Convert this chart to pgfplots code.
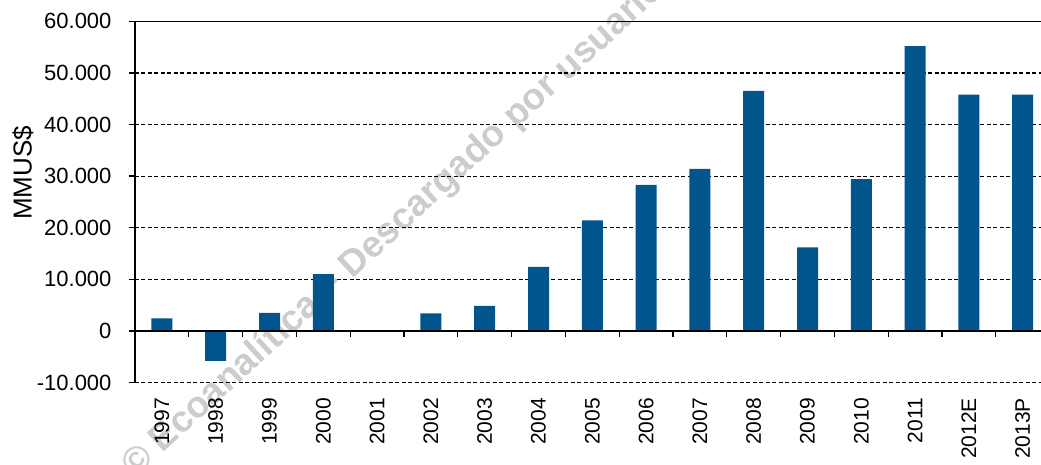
\documentclass[border=0pt]{standalone}
\usepackage{pgfplots}
\pgfplotsset{compat=1.18}
\usepackage{fontspec}
\setmainfont{Liberation Sans}
\definecolor{barblue}{HTML}{00568C}
\begin{document}
\begin{tikzpicture}
\useasboundingbox (-135pt,-82.4pt) rectangle (906pt,382.6pt);
\clip (-135pt,-82.4pt) rectangle (906pt,382.6pt);
\node[rotate=42.5, anchor=base west, text=black!20, inner sep=0pt,
      font=\fontsize{37}{41}\selectfont\bfseries] at (0pt,-96pt)
      {© Ecoanalítica – Descargado por usuario};
\begin{axis}[
  at={(0,0)}, anchor=south west,
  scale only axis, width=906pt, height=361.3pt,
  xmin=-0.5, xmax=16.34, ymin=-10000, ymax=60000,
  scaled y ticks=false,
  axis y line*=left, axis x line*=bottom,
  x axis line style={draw=none},
  y axis line style={black, line width=1.3pt, -},
  xtick={0,...,16},
  xticklabels={1997,1998,1999,2000,2001,2002,2003,2004,2005,2006,2007,2008,2009,2010,2011,2012E,2013P},
  xtick style={draw=none},
  xticklabel style={rotate=90, anchor=east, font=\fontsize{21}{24}\selectfont},
  xticklabel shift=12pt,
  ytick={-10000,0,10000,20000,30000,40000,50000},
  yticklabels={-10.000,0,10.000,20.000,30.000,40.000,50.000},
  extra y ticks={60000}, extra y tick labels={60.000},
  extra y tick style={grid style={solid, black, line width=1.5pt}},
  ymajorgrids,
  grid style={black, line width=1.2pt, dash pattern=on 4pt off 2.5pt},
  ytick align=outside, major tick length=6pt,
  ytick style={black, line width=1.3pt},
  yticklabel style={font=\fontsize{22}{24}\selectfont, xshift=-6pt},
  yticklabel shift=8pt,
  ylabel={MMUS\$},
  ylabel style={font=\fontsize{26}{30}\selectfont, at={(axis description cs:-0.1236,0.58)}, anchor=center},
  clip=false,
]
\addplot[ybar, bar width=21pt, fill=barblue, draw=none] coordinates {
  (0,2460) (1,-5800) (2,3500) (3,11000) (4,0) (5,3430) (6,4850) (7,12400)
  (8,21450) (9,28300) (10,31400) (11,46500) (12,16200) (13,29400)
  (14,55200) (15,45800) (16,45800)};
\addplot[black, line width=1.5pt] coordinates {(-0.5,0) (16.34,0)};
\addplot[ycomb, black, line width=1.3pt, no marks] coordinates {
  (0.5,-1160) (1.5,-1160) (2.5,-1160) (3.5,-1160) (4.5,-1160) (5.5,-1160)
  (6.5,-1160) (7.5,-1160) (8.5,-1160) (9.5,-1160) (10.5,-1160) (11.5,-1160)
  (12.5,-1160) (13.5,-1160) (14.5,-1160) (15.5,-1160)};
\end{axis}
\end{tikzpicture}
\end{document}
